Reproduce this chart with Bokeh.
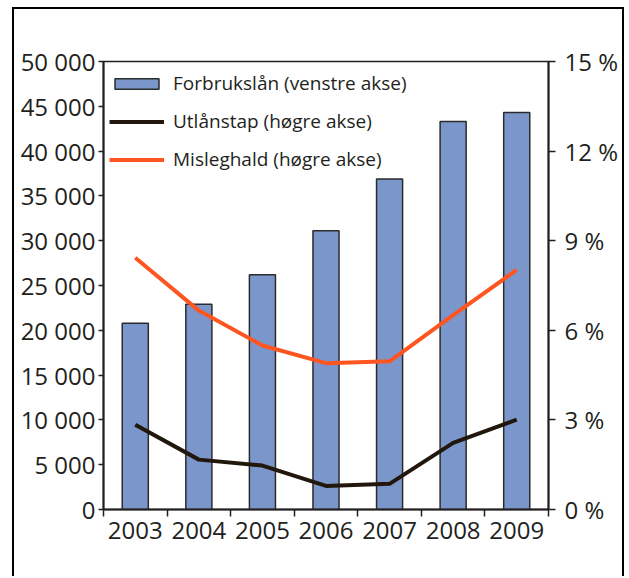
from bokeh.plotting import figure
from bokeh.models import (Range1d, LinearAxis, FixedTicker, Legend, LegendItem,
                          ColumnDataSource)
from bokeh.embed import file_html
from bokeh.resources import INLINE

years = ["2003", "2004", "2005", "2006", "2007", "2008", "2009"]
forbrukslan = [20800, 22900, 26200, 31100, 36900, 43300, 44300]
utlanstap = [2.84, 1.67, 1.47, 0.79, 0.86, 2.23, 3.01]
misleghald = [8.43, 6.66, 5.49, 4.90, 4.96, 6.51, 8.02]
left_ticks = [0, 5000, 10000, 15000, 20000, 25000, 30000, 35000, 40000, 45000, 50000]
right_ticks = [0, 3, 6, 9, 12, 15]

INK = "#231f20"
FONT = "Open Sans"

xpos = [i + 0.5 for i in range(len(years))]
src = ColumnDataSource(dict(x=xpos, bar=forbrukslan, tap=utlanstap, mis=misleghald))

p = figure(width=612, height=569, output_backend="svg", toolbar_location=None,
           x_range=Range1d(0, len(years)), y_range=Range1d(0, 50000),
           min_border_left=89, min_border_top=52, min_border_right=78,
           min_border_bottom=69)
p.styles = {"margin-left": "12px", "margin-top": "7px",
            "border-left": "2px solid black", "border-top": "2px solid black",
            "border-right": "2px solid black"}
p.extra_y_ranges = {"pct": Range1d(0, 15)}
p.grid.visible = False
p.outline_line_color = INK
p.outline_line_width = 1.5
p.outline_line_alpha = 1.0

bars = p.vbar(x="x", top="bar", width=0.41, source=src, fill_color="#7b96cb",
              line_color="#2b2b2b", line_width=1.5)
l1 = p.line(x="x", y="tap", source=src, y_range_name="pct", line_color="#21170d",
            line_width=4)
l2 = p.line(x="x", y="mis", source=src, y_range_name="pct", line_color="#ff5520",
            line_width=4)

# bottom axis
xa = p.xaxis[0]
xa.ticker = FixedTicker(ticks=xpos, minor_ticks=list(range(len(years) + 1)))
xa.major_label_overrides = {x: y for x, y in zip(xpos, years)}
xa.major_tick_out = 0
xa.major_tick_in = 0
xa.minor_tick_out = 7
xa.minor_tick_in = 0
xa.minor_tick_line_color = INK
xa.minor_tick_line_width = 1.5
xa.axis_line_color = INK
xa.axis_line_width = 2
xa.major_label_standoff = 5
xa.major_label_text_font = FONT
xa.major_label_text_font_size = "24px"
xa.major_label_text_color = INK

# left axis
ya = p.yaxis[0]
ya.ticker = FixedTicker(ticks=left_ticks, minor_ticks=[])
ya.major_label_overrides = {t: f"{t:,}".replace(",", " ") for t in left_ticks}
ya.major_tick_out = 5
ya.major_tick_in = 0
ya.major_tick_line_color = INK
ya.major_tick_line_width = 1.5
ya.axis_line_color = INK
ya.axis_line_width = 2
ya.major_label_standoff = 3
ya.major_label_text_font = FONT
ya.major_label_text_font_size = "24px"
ya.major_label_text_color = INK

# right axis
ra = LinearAxis(y_range_name="pct")
ra.ticker = FixedTicker(ticks=right_ticks, minor_ticks=[])
ra.major_label_overrides = {t: f"{t} %" for t in right_ticks}
ra.major_tick_out = 7
ra.major_tick_in = 0
ra.major_tick_line_color = INK
ra.major_tick_line_width = 1.5
ra.axis_line_color = INK
ra.axis_line_width = 2
ra.major_label_standoff = 9
ra.major_label_text_font = FONT
ra.major_label_text_font_size = "24px"
ra.major_label_text_color = INK
p.add_layout(ra, "right")

legend = Legend(items=[
    LegendItem(label="Forbrukslån (venstre akse)", renderers=[bars]),
    LegendItem(label="Utlånstap (høgre akse)", renderers=[l1]),
    LegendItem(label="Misleghald (høgre akse)", renderers=[l2]),
], location="top_left")
legend.border_line_color = None
legend.background_fill_alpha = 0
legend.glyph_width = 55
legend.glyph_height = 13
legend.label_height = 32
legend.spacing = 6
legend.margin = 6
legend.padding = 4
legend.label_standoff = 9
legend.label_text_font = FONT
legend.label_text_font_size = "19px"
legend.label_text_color = INK
p.add_layout(legend)

open("out.html", "w").write(file_html(p, INLINE))
